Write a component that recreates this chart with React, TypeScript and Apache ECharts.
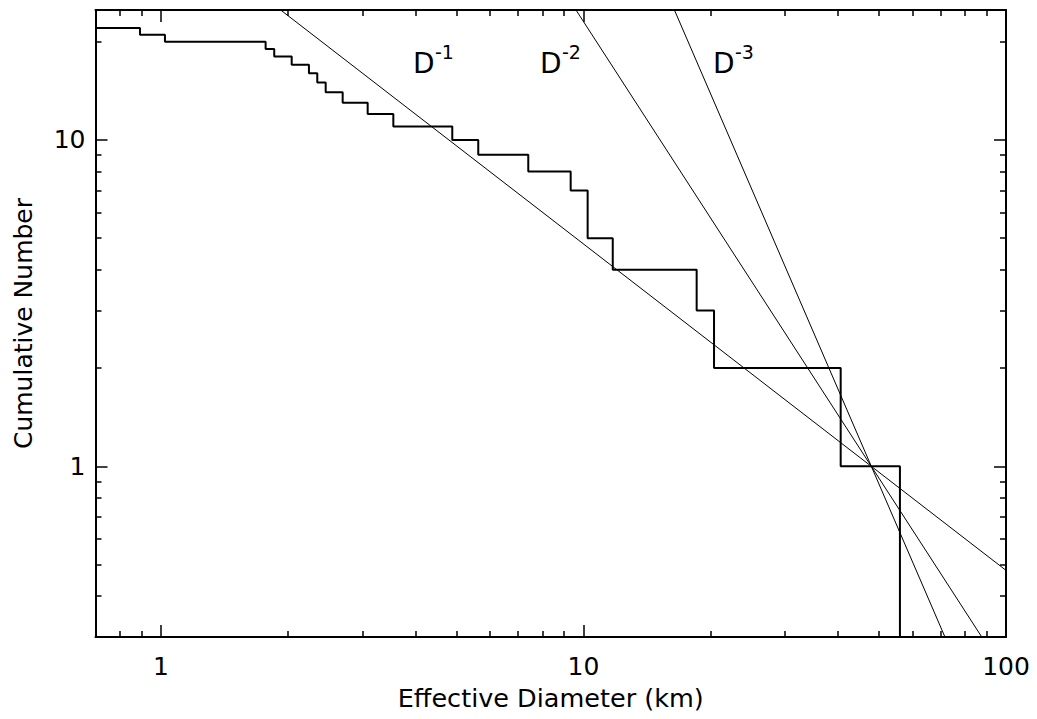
import React, { useEffect, useRef } from "react";
import * as echarts from "echarts";

// Cumulative step curve: vertices of the staircase (diameter in km, cumulative count)
const stepDiameters = [0.7, 0.892, 1.022, 1.769, 1.854, 2.039, 2.24, 2.344, 2.454, 2.692, 3.085, 3.548, 4.892, 5.636, 7.402, 9.326, 10.23, 11.73, 18.53, 20.37, 40.62, 56.1];
const stepCounts = [22, 21, 20, 19, 18, 17, 16, 15, 14, 13, 12, 11, 10, 9, 8, 7, 5, 4, 3, 2, 1, 0.3];

// Power-law reference lines (endpoints, clipped by the axes)
const lineD1 = [[1, 48], [100, 0.48]];
const lineD2 = [[4.8, 100], [100, 0.2304]];
const lineD3 = [[10, 110.6], [100, 0.1106]];

const powerLabels = ["-1", "-2", "-3"];

const xMajor = [1, 10, 100];
const xMinor = [0.8, 0.9, 2, 3, 4, 5, 6, 7, 8, 9, 20, 30, 40, 50, 60, 70, 80, 90];
const yMajor = [1, 10];
const yMinor = [0.4, 0.5, 0.6, 0.7, 0.8, 0.9, 2, 3, 4, 5, 6, 7, 8, 9, 20];

const FONT = "DejaVu Sans";

export default function App() {
  const ref = useRef<HTMLDivElement>(null);
  useEffect(() => {
    if (!ref.current) return;
    const chart = echarts.init(ref.current, undefined, { renderer: "svg" });

    const axisBase = (kind: "x" | "y", position: string, major: boolean, showLine: boolean, showLabel: boolean) => ({
      type: "log",
      logBase: 10,
      min: kind === "x" ? 0.7 : 0.3,
      max: kind === "x" ? 100 : 25,
      position,
      axisLine: { show: showLine, onZero: false, lineStyle: { color: "#000", width: 2 } },
      axisTick: {
        show: true,
        inside: true,
        length: major ? 12 : 6,
        customValues: major ? (kind === "x" ? xMajor : yMajor) : kind === "x" ? xMinor : yMinor,
        lineStyle: { color: "#000", width: 1.5 },
      },
      axisLabel: {
        show: showLabel,
        customValues: kind === "x" ? xMajor : yMajor,
        margin: kind === "x" ? 17 : 10,
        fontFamily: FONT,
        fontSize: 25,
        color: "#000",
        formatter: (v: number) => String(v),
      },
      splitLine: { show: false },
      minorTick: { show: false },
      minorSplitLine: { show: false },
    });

    const option: any = {
      animation: false,
      backgroundColor: "#fff",
      textStyle: { fontFamily: FONT },
      grid: { left: 95.5, right: 31, top: 10, bottom: 82, containLabel: false, outerBoundsMode: "none" },
      xAxis: [
        {
          ...axisBase("x", "bottom", true, true, true),
          name: "Effective Diameter (km)",
          nameLocation: "middle",
          nameGap: 48,
          nameTextStyle: { fontFamily: FONT, fontSize: 25.5, color: "#000" },
        },
        axisBase("x", "bottom", false, false, false),
        axisBase("x", "top", true, true, false),
        axisBase("x", "top", false, false, false),
      ],
      yAxis: [
        {
          ...axisBase("y", "left", true, true, true),
          name: "Cumulative Number",
          nameLocation: "middle",
          nameGap: 60,
          nameTextStyle: { fontFamily: FONT, fontSize: 25, color: "#000" },
        },
        axisBase("y", "left", false, false, false),
        axisBase("y", "right", true, true, false),
        axisBase("y", "right", false, false, false),
      ],
      series: [
        {
          type: "line",
          xAxisIndex: 0,
          yAxisIndex: 0,
          step: "end",
          data: stepDiameters.map((d, i) => [d, stepCounts[i]]),
          showSymbol: false,
          clip: true,
          lineStyle: { color: "#000", width: 2 },
        },
        ...[lineD1, lineD2, lineD3].map((pts) => ({
          type: "line",
          xAxisIndex: 0,
          yAxisIndex: 0,
          data: pts,
          showSymbol: false,
          clip: true,
          lineStyle: { color: "#000", width: 1 },
        })),
      ],
      graphic: [
        { type: "text", x: 413, y: 63.5, style: { text: "D", fontFamily: FONT, fontSize: 28, fill: "#000", verticalAlign: "middle" } },
        { type: "text", x: 435, y: 52, style: { text: powerLabels[0], fontFamily: FONT, fontSize: 19, fill: "#000", verticalAlign: "middle" } },
        { type: "text", x: 540, y: 63.5, style: { text: "D", fontFamily: FONT, fontSize: 28, fill: "#000", verticalAlign: "middle" } },
        { type: "text", x: 562, y: 52, style: { text: powerLabels[1], fontFamily: FONT, fontSize: 19, fill: "#000", verticalAlign: "middle" } },
        { type: "text", x: 713, y: 63.5, style: { text: "D", fontFamily: FONT, fontSize: 28, fill: "#000", verticalAlign: "middle" } },
        { type: "text", x: 735, y: 52, style: { text: powerLabels[2], fontFamily: FONT, fontSize: 19, fill: "#000", verticalAlign: "middle" } },
      ],
    };
    chart.setOption(option);
    return () => chart.dispose();
  }, []);

  return (
    <div
      ref={ref}
      style={{ position: "absolute", left: 0, top: 0, width: 1037, height: 719, background: "#fff" }}
    />
  );
}
